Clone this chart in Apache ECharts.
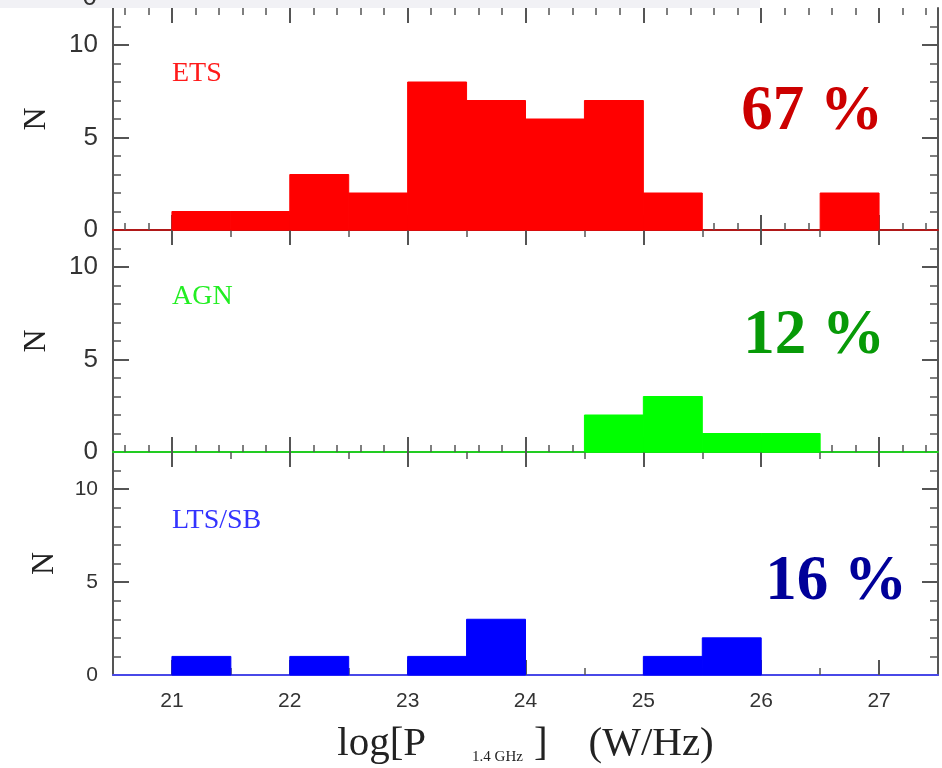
<!DOCTYPE html>
<html><head><meta charset="utf-8">
<script src="https://cdn.jsdelivr.net/npm/echarts@6/dist/echarts.min.js"></script>
<style>html,body{margin:0;padding:0;background:#fff}#c{width:942px;height:768px}</style>
</head><body><div id="c"></div>
<script>
// ---- data ----
const binStarts = [20.5, 21, 21.5, 22, 22.5, 23, 23.5, 24, 24.5, 25, 25.5, 26, 26.5, 27];
const binWidth = 0.5;
const etsCounts = [0, 1, 1, 3, 2, 8, 7, 6, 7, 2, 0, 0, 2, 0];
const agnCounts = [0, 0, 0, 0, 0, 0, 0, 0, 2, 3, 1, 1, 0, 0];
const ltsCounts = [0, 1, 0, 1, 0, 1, 3, 0, 0, 1, 2, 0, 0, 0];
const panelNames = ['ETS', 'AGN', 'LTS/SB'];
const percentLabels = ['67 %', '12 %', '16 %'];
const xTickLabels = [21, 22, 23, 24, 25, 26, 27];
const yTickLabels = [0, 5, 10];
const yMajorTicks = [5, 10];
const yMinorTicks = [1, 2, 3, 4, 6, 7, 8, 9, 11];
const xRange = [20.5, 27.5];
const yRange = [0, 12];

// fine (0.2) and half-unit tick positions
const xFine = [];
for (let k = 103; k <= 137; k++) { if (k % 5 !== 0) xFine.push(Math.round(k * 2) / 10); }
const xHalf = [21.5, 22.5, 23.5, 24.5, 25.5, 26.5];

const SERIF = '"Liberation Serif", "DejaVu Serif", serif';
const SANS = '"Liberation Sans", Arial, sans-serif';
const TICK = '#555';

const panels = [
  {counts: etsCounts, fill: '#ff0000', base: '#b01818', nameColor: '#ff1a1a', pctColor: '#cc0000',
   top: 8, height: 222, botMinor: xFine, topMinor: xFine, ySize: 26, nGap: 60,
   nameXY: [172, 74], pctXY: [812, 113]},
  {counts: agnCounts, fill: '#00ff00', base: '#22cc22', nameColor: '#22ee22', pctColor: '#079a07',
   top: 230, height: 222, botMinor: xFine, topMinor: xHalf, ySize: 26, nGap: 60,
   nameXY: [172, 297], pctXY: [814, 337]},
  {counts: ltsCounts, fill: '#0000ff', base: '#4848e8', nameColor: '#3333ff', pctColor: '#000099',
   top: 452, height: 223, botMinor: xHalf, topMinor: xHalf, ySize: 21, nGap: 52,
   nameXY: [172, 521], pctXY: [836, 583]}
];

const grids = [], xAxes = [], yAxes = [], series = [], graphics = [];

graphics.push({type: 'rect', shape: {x: 0, y: 0, width: 760, height: 8}, style: {fill: '#f1f1f5'}, z: 100});
graphics.push({type: 'text', x: 97, y: 11, z: 101,
  style: {text: '0', font: '26px ' + SANS, fill: '#333', textAlign: 'right', textVerticalAlign: 'bottom'}});

function hidden() { return {show: false}; }

panels.forEach((p, i) => {
  const last = i === panels.length - 1;
  grids.push({left: 113, right: 4, top: p.top, height: p.height, outerBoundsMode: 'none', containLabel: false});
  const xBase = {type: 'value', gridIndex: i, min: xRange[0], max: xRange[1], splitLine: hidden()};
  // bottom major
  xAxes.push(Object.assign({}, xBase, {
    position: 'bottom',
    axisLine: {show: true, onZero: false, lineStyle: {color: p.base, width: 2}},
    axisTick: {show: true, inside: true, length: 15, customValues: xTickLabels, lineStyle: {color: TICK, width: 2}},
    axisLabel: last ? {show: true, customValues: xTickLabels, margin: 16, fontSize: 21, fontFamily: SANS, color: '#333'} : hidden(),
    name: last ? '{m|log[P}{s|1.4 GHz}{m|]    (W/Hz)}' : '',
    nameLocation: 'middle', nameGap: 49,
    nameTextStyle: {
      fontFamily: SERIF, fontSize: 41, color: '#222',
      rich: {
        m: {fontFamily: SERIF, fontSize: 41, color: '#222'},
        s: {fontFamily: SERIF, fontSize: 15, color: '#222', verticalAlign: 'bottom', padding: [0, 11, 0, 46]}
      }
    }
  }));
  // bottom minor
  xAxes.push(Object.assign({}, xBase, {
    position: 'bottom', axisLine: {show: false, onZero: false},
    axisTick: {show: true, inside: true, length: 7, customValues: p.botMinor, lineStyle: {color: TICK, width: 1.5}},
    axisLabel: hidden()
  }));
  // top major
  xAxes.push(Object.assign({}, xBase, {
    position: 'top', axisLine: {show: false, onZero: false},
    axisTick: {show: true, inside: true, length: 15, customValues: xTickLabels, lineStyle: {color: TICK, width: 2}},
    axisLabel: hidden()
  }));
  // top minor
  xAxes.push(Object.assign({}, xBase, {
    position: 'top', axisLine: {show: false, onZero: false},
    axisTick: {show: true, inside: true, length: 7, customValues: p.topMinor, lineStyle: {color: TICK, width: 1.5}},
    axisLabel: hidden()
  }));

  const yBase = {type: 'value', gridIndex: i, min: yRange[0], max: yRange[1], splitLine: hidden()};
  yAxes.push(Object.assign({}, yBase, {
    position: 'left',
    axisLine: {show: true, onZero: false, lineStyle: {color: '#555', width: 2}},
    axisTick: {show: true, inside: true, length: 16, customValues: yMajorTicks, lineStyle: {color: TICK, width: 2}},
    axisLabel: {show: true, customValues: yTickLabels, margin: 15, fontSize: p.ySize, fontFamily: SANS, color: '#333'},
    name: 'N', nameLocation: 'middle', nameGap: p.nGap, nameRotate: 90,
    nameTextStyle: {fontFamily: SERIF, fontSize: 32, color: '#222'}
  }));
  yAxes.push(Object.assign({}, yBase, {
    position: 'left', axisLine: {show: false, onZero: false},
    axisTick: {show: true, inside: true, length: 8, customValues: yMinorTicks, lineStyle: {color: TICK, width: 1.5}},
    axisLabel: hidden()
  }));
  yAxes.push(Object.assign({}, yBase, {
    position: 'right',
    axisLine: {show: true, onZero: false, lineStyle: {color: '#555', width: 2}},
    axisTick: {show: true, inside: true, length: 16, customValues: yMajorTicks, lineStyle: {color: TICK, width: 2}},
    axisLabel: hidden()
  }));
  yAxes.push(Object.assign({}, yBase, {
    position: 'right', axisLine: {show: false, onZero: false},
    axisTick: {show: true, inside: true, length: 8, customValues: yMinorTicks, lineStyle: {color: TICK, width: 1.5}},
    axisLabel: hidden()
  }));

  const fill = p.fill;
  series.push({
    type: 'custom', xAxisIndex: i * 4, yAxisIndex: i * 4, z: 5,
    data: binStarts.map((b, k) => [b, p.counts[k]]),
    renderItem: function (params, api) {
      const x0 = api.value(0), n = api.value(1);
      if (!n) return null;
      const a = api.coord([x0, 0]);
      const b = api.coord([x0 + binWidth, n]);
      return {type: 'rect', shape: {x: a[0], y: b[1], width: b[0] - a[0], height: a[1] - b[1]},
        style: {fill: fill, stroke: fill, lineWidth: 1}};
    },
    silent: true, animation: false
  });

  graphics.push({type: 'text', x: p.nameXY[0], y: p.nameXY[1],
    style: {text: panelNames[i], font: '28px ' + SERIF, fill: p.nameColor, textAlign: 'left', textVerticalAlign: 'middle'}});
  graphics.push({type: 'text', x: p.pctXY[0], y: p.pctXY[1],
    style: {text: percentLabels[i], font: 'bold 63px ' + SERIF, fill: p.pctColor, textAlign: 'center', textVerticalAlign: 'middle'}});
});

const chart = echarts.init(document.getElementById('c'), null, {renderer: 'canvas'});
chart.setOption({
  backgroundColor: '#fff',
  animation: false,
  grid: grids, xAxis: xAxes, yAxis: yAxes, series: series,
  graphic: {elements: graphics}
});
</script></body></html>
